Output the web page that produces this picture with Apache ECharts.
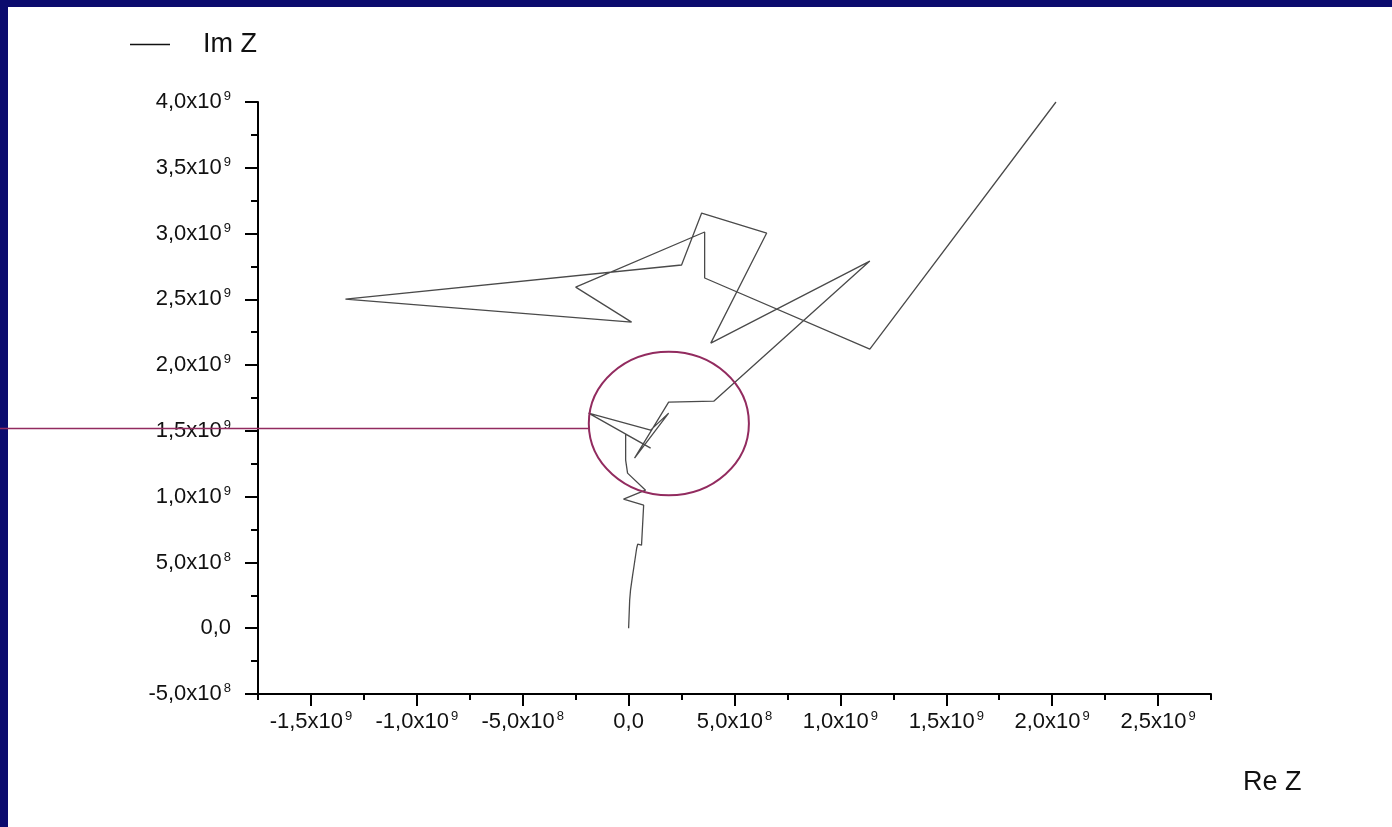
<!DOCTYPE html>
<html><head><meta charset="utf-8">
<script src="https://cdn.jsdelivr.net/npm/echarts@6/dist/echarts.min.js"></script>
<style>html,body{margin:0;padding:0;background:#0b0b6e;}#c{width:1392px;height:827px;}</style>
</head><body><div id="c"></div>
<script>
// Data (Re Z, Im Z)
const reZ = [0, 0.05e8, 0.09e8, 0.19e8, 0.24e8, 0.38e8, 0.43e8, 0.61e8, 0.71e8, -0.24e8, 0.80e8, -0.05e8, -0.14e8, -0.14e8, 1.04e8, -1.89e8, 1.04e8, 1.89e8, 0.28e8, 1.89e8, 4.02e8, 11.39e8, 3.88e8, 6.52e8, 3.45e8, 2.50e8, -13.37e8, 0.14e8, -2.50e8, 3.59e8, 3.59e8, 11.39e8, 20.18e8];
const imZ = [0, 2.13e8, 2.89e8, 4.03e8, 4.56e8, 6.08e8, 6.39e8, 6.31e8, 9.35e8, 9.81e8, 10.49e8, 11.79e8, 12.78e8, 14.75e8, 13.69e8, 16.35e8, 15.06e8, 16.35e8, 12.93e8, 17.19e8, 17.26e8, 27.91e8, 21.67e8, 30.04e8, 31.56e8, 27.61e8, 25.02e8, 23.27e8, 25.93e8, 30.12e8, 26.62e8, 21.22e8, 40.00e8];

const xTickValues = [-1.5e9, -1.0e9, -5e8, 0, 5e8, 1.0e9, 1.5e9, 2.0e9, 2.5e9];
const xTickMantissa = ['-1,5', '-1,0', '-5,0', '0,0', '5,0', '1,0', '1,5', '2,0', '2,5'];
const xTickExp = ['9', '9', '8', '', '8', '9', '9', '9', '9'];
const yTickValues = [-5e8, 0, 5e8, 1.0e9, 1.5e9, 2.0e9, 2.5e9, 3.0e9, 3.5e9, 4.0e9];
const yTickMantissa = ['-5,0', '0,0', '5,0', '1,0', '1,5', '2,0', '2,5', '3,0', '3,5', '4,0'];
const yTickExp = ['8', '', '8', '9', '9', '9', '9', '9', '9', '9'];

// annotation (circle + pointer line) in data units
const markCenter = [1.9e8, 15.56e8];
const markRadius = [3.78e8, 5.45e8];
const markLineY = 15.18e8;

const FONT = '"Liberation Sans", Arial, sans-serif';
function fmt(values, mant, exp) {
  return function (v) {
    const i = values.findIndex(t => Math.abs(t - v) < 1);
    if (i < 0) return '';
    return exp[i] ? '{n|' + mant[i] + 'x10}{s|' + exp[i] + '}' : '{n|' + mant[i] + '}';
  };
}
const rich = {
  n: { fontSize: 22, fontFamily: FONT, color: '#111', lineHeight: 24 },
  s: { fontSize: 13, fontFamily: FONT, color: '#111', lineHeight: 13, verticalAlign: 'top', padding: [0, 0, 0, 2] }
};

const chart = echarts.init(document.getElementById('c'), null, { renderer: 'canvas' });
const axisLineStyle = { color: '#000', width: 2 };
const option = {
  animation: false,
  backgroundColor: '#0b0b6e',
  grid: { left: 258, top: 102, right: 181, bottom: 133, containLabel: false },
  legend: {
    left: 125, top: 26,
    data: [{ name: 'Im Z', icon: 'path://M0,0H40V1.6H0Z' }],
    itemWidth: 40, itemHeight: 2,
    itemStyle: { color: '#111' },
    textStyle: { fontSize: 27, fontFamily: FONT, color: '#111', padding: [0, 0, 0, 28] }
  },
  title: {
    text: 'Re Z', left: 1238, top: 764,
    textStyle: { fontSize: 27, fontWeight: 'normal', fontFamily: FONT, color: '#111' }
  },
  xAxis: [
    {
      type: 'value', min: -1.75e9, max: 2.75e9, interval: 2.5e8,
      axisLine: { show: true, onZero: false, lineStyle: axisLineStyle },
      axisTick: { show: true, length: 6, lineStyle: axisLineStyle },
      axisLabel: { show: false },
      splitLine: { show: false }
    },
    {
      type: 'value', min: -1.75e9, max: 2.75e9, position: 'bottom',
      axisLine: { show: false, onZero: false },
      axisTick: { show: true, length: 12, lineStyle: axisLineStyle, customValues: xTickValues },
      axisLabel: { show: true, margin: 16, customValues: xTickValues, formatter: fmt(xTickValues, xTickMantissa, xTickExp), rich: rich },
      splitLine: { show: false }
    }
  ],
  yAxis: {
    type: 'value', min: -5e8, max: 4e9, interval: 5e8,
    axisLine: { show: true, onZero: false, lineStyle: axisLineStyle },
    axisTick: { show: true, length: 13, lineStyle: axisLineStyle },
    minorTick: { show: true, splitNumber: 2, length: 7, lineStyle: axisLineStyle },
    axisLabel: { margin: 27, formatter: fmt(yTickValues, yTickMantissa, yTickExp), rich: rich },
    splitLine: { show: false }, minorSplitLine: { show: false }
  },
  graphic: [
    { id: 'bg', type: 'rect', z: -100, silent: true, shape: { x: 8, y: 7, width: 1384, height: 820 }, style: { fill: '#ffffff' } }
  ],
  series: [{
    name: 'Im Z', type: 'line', xAxisIndex: 0, yAxisIndex: 0,
    showSymbol: false, symbol: 'none',
    lineStyle: { color: '#4a4a4a', width: 1.3 },
    itemStyle: { color: '#111' },
    data: reZ.map((x, i) => [x, imZ[i]])
  }]
};
chart.setOption(option);

const c = chart.convertToPixel({ xAxisIndex: 0, yAxisIndex: 0 }, markCenter);
const e = chart.convertToPixel({ xAxisIndex: 0, yAxisIndex: 0 }, [markCenter[0] + markRadius[0], markCenter[1] + markRadius[1]]);
const rx = e[0] - c[0], ry = c[1] - e[1];
const ly = chart.convertToPixel({ xAxisIndex: 0, yAxisIndex: 0 }, [0, markLineY])[1];
const dy = (ly - c[1]) / ry;
const lx = c[0] - rx * Math.sqrt(Math.max(0, 1 - dy * dy));
chart.setOption({
  graphic: [
    { id: 'bg', type: 'rect', z: -100, silent: true, shape: { x: 8, y: 7, width: 1384, height: 820 }, style: { fill: '#ffffff' } },
    { id: 'ell', type: 'ellipse', z: 50, silent: true, shape: { cx: c[0], cy: c[1], rx: rx, ry: ry }, style: { fill: null, stroke: '#922b5f', lineWidth: 2 } },
    { id: 'ptr', type: 'line', z: 50, silent: true, shape: { x1: 0, y1: ly, x2: lx, y2: ly }, style: { stroke: '#922b5f', lineWidth: 1.6 } }
  ]
});
</script>
</body></html>
